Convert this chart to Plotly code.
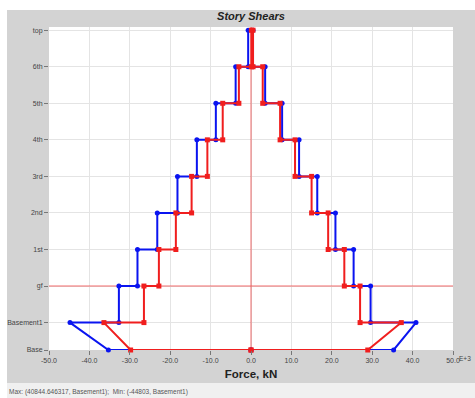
import plotly.graph_objects as go

# ---- data ----
stories = ["top", "6th", "5th", "4th", "3rd", "2nd", "1st", "gf", "Basement1", "Base"]
elevations = [35, 31, 27, 23, 19, 15, 11, 7, 3, 0]

# story shears (kN x1000) at top and bottom of each story (top .. Basement1)
blue_max_top = [0.5, 3.5, 7.7, 11.9, 16.4, 20.9, 25.4, 29.6, 40.84]
blue_max_bot = [0.5, 3.5, 7.7, 11.9, 16.4, 20.9, 25.4, 29.6, 35.3]
blue_min_top = [-0.7, -3.8, -8.7, -13.4, -18.2, -23.2, -28.1, -32.7, -44.8]
blue_min_bot = [-0.7, -3.8, -8.7, -13.4, -18.2, -23.2, -28.1, -32.7, -35.3]

red_max_top = [0.5, 2.9, 7.2, 10.9, 15.0, 19.1, 23.1, 27.0, 37.2]
red_max_bot = [0.5, 2.9, 7.2, 10.9, 15.0, 19.1, 23.1, 27.0, 28.9]
red_min_top = [0.1, -3.0, -7.0, -10.8, -14.7, -18.6, -22.8, -26.5, -36.4]
red_min_bot = [0.1, -3.0, -7.0, -10.8, -14.7, -18.6, -22.8, -26.5, -29.8]

x_tick_vals = [-50, -40, -30, -20, -10, 0, 10, 20, 30, 40, 50]
x_tick_text = ["-50.0", "-40.0", "-30.0", "-20.0", "-10.0", "0.0", "10.0", "20.0", "30.0", "40.0", "50.0"]
x_range = [-50, 50]
y_range = [0, 35.35]
ref_story = "gf"


def build_path(max_top, max_bot, min_top, min_bot):
    n = len(max_top)
    xs, ys = [0], [elevations[-1]]
    # right side, bottom to top
    for i in reversed(range(n)):
        xs += [max_bot[i], max_top[i]]
        ys += [elevations[i + 1], elevations[i]]
    # left side, top to bottom
    for i in range(n):
        xs += [min_top[i], min_bot[i]]
        ys += [elevations[i], elevations[i + 1]]
    xs.append(0)
    ys.append(elevations[-1])
    return xs, ys


fig = go.Figure()

# reference lines (x = 0 and ground floor level)
gf_elev = elevations[stories.index(ref_story)]
fig.add_trace(go.Scatter(x=[0, 0], y=y_range, mode="lines", hoverinfo="skip",
                         line=dict(color="rgba(235,60,60,0.75)", width=1), showlegend=False))
fig.add_trace(go.Scatter(x=x_range, y=[gf_elev, gf_elev], mode="lines", hoverinfo="skip",
                         line=dict(color="rgba(240,90,90,0.6)", width=1.5), showlegend=False))

bx, by = build_path(blue_max_top, blue_max_bot, blue_min_top, blue_min_bot)
rx, ry = build_path(red_max_top, red_max_bot, red_min_top, red_min_bot)

fig.add_trace(go.Scatter(x=bx, y=by, mode="lines+markers",
                         line=dict(color="#0a14f0", width=2),
                         marker=dict(symbol="circle", size=5, color="#0a14f0"),
                         cliponaxis=False, showlegend=False))
fig.add_trace(go.Scatter(x=rx, y=ry, mode="lines+markers",
                         line=dict(color="#f01e1e", width=2),
                         marker=dict(symbol="square", size=5, color="#f01e1e"),
                         cliponaxis=False, showlegend=False))

W, H = 475, 398
ml, mr, mt, mb = 49, 22, 27, 48
pw, ph = W - ml - mr, H - mt - mb


def px(xp):
    return (xp - ml) / pw


def py(yp):
    return (H - mb - yp) / ph


shapes = [
    # white strips outside gray panel
    dict(type="rect", xref="paper", yref="paper", x0=px(0), x1=px(W), y0=py(10), y1=py(0),
         fillcolor="white", line=dict(width=0), layer="below"),
    dict(type="rect", xref="paper", yref="paper", x0=px(0), x1=px(7), y0=py(H), y1=py(0),
         fillcolor="white", line=dict(width=0), layer="below"),
    # lighter status strip at bottom
    dict(type="rect", xref="paper", yref="paper", x0=px(7), x1=px(W), y0=py(H), y1=py(383),
         fillcolor="#f0f0f0", line=dict(width=0), layer="below"),
]

annotations = [
    dict(text="E+3", xref="paper", yref="paper", x=px(473), y=py(358), xanchor="right",
         yanchor="middle", showarrow=False, font=dict(size=6.5, color="#444")),
    dict(text="Max: (40844.646317, Basement1);  Min: (-44803, Basement1)", xref="paper", yref="paper",
         x=px(7), y=py(392), xanchor="left", yanchor="middle", showarrow=False,
         font=dict(size=6.5, color="#555")),
]

fig.update_layout(
    width=W, height=H,
    margin=dict(l=ml, r=mr, t=mt, b=mb, pad=0, autoexpand=False),
    paper_bgcolor="#d3d3d3",
    plot_bgcolor="white",
    font=dict(family="Liberation Sans, Arial, sans-serif", color="#333"),
    title=dict(text="<b><i>Story Shears</i></b>", x=251 / W, xanchor="center", xref="container",
               y=1 - 16 / H, yanchor="middle", yref="container",
               font=dict(size=11, color="#222")),
    shapes=shapes,
    annotations=annotations,
    xaxis=dict(range=x_range, tickvals=x_tick_vals, ticktext=x_tick_text, automargin=False,
               showgrid=True, gridcolor="#e4e4e4", gridwidth=1, zeroline=False,
               ticks="outside", ticklen=4, tickcolor="#777", showline=False,
               tickfont=dict(size=7, color="#444"),
               title=dict(text="<b>Force, kN</b>", font=dict(size=11.5, color="#222"), standoff=6)),
    yaxis=dict(range=y_range, tickvals=elevations, ticktext=stories, automargin=False,
               showgrid=True, gridcolor="#e4e4e4", gridwidth=1, zeroline=False,
               ticks="outside", ticklen=4, tickcolor="#777", showline=False,
               tickfont=dict(size=7, color="#444")),
)

fig.write_html("out.html")
